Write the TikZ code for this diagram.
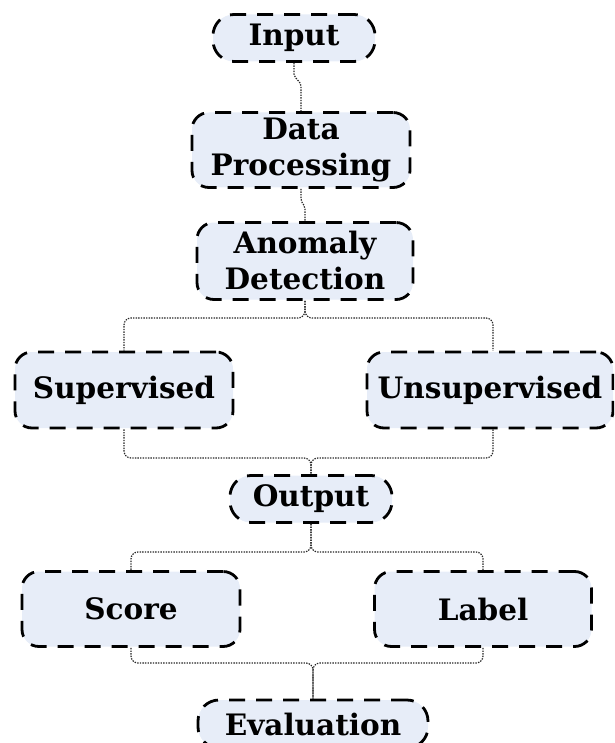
\documentclass[tikz,border=0pt]{standalone}
\usepackage{fontspec}
\setmainfont{DejaVu Serif}
\definecolor{boxfill}{HTML}{E7EDF8}
\begin{document}
\begin{tikzpicture}[x=1pt,y=-1pt,
  box/.style={draw=black, line width=2.8pt, dash pattern=on 16pt off 11pt,
    fill=boxfill, rounded corners=17pt, align=center, inner sep=0pt,
    font=\bfseries\fontsize{29.5}{36}\selectfont},
  pill/.style={box, rounded corners=21pt},
  conn/.style={draw=black!85, line width=1.2pt, dash pattern=on 1.4pt off 1.2pt,
    rounded corners=7pt},
  jog/.style={conn, rounded corners=2pt}]
\useasboundingbox (0,0) rectangle (614,743);
\clip (0,0) rectangle (614,743);

% processing chain
\node[pill, minimum width=162pt, minimum height=47pt] (inp) at (294,38) {Input};
\node[box, minimum width=218pt, minimum height=75pt] (dp) at (301,150) {Data\\Processing};
\node[box, minimum width=216pt, minimum height=77pt] (ad) at (305,261) {Anomaly\\Detection};
\node[box, minimum width=218pt, minimum height=76pt] (sup) at (124,390) {Supervised};
\node[box, minimum width=246pt, minimum height=76pt] (uns) at (490,390) {Unsupervised};
\node[pill, minimum width=162pt, minimum height=47pt] (out) at (311,499) {Output};
\node[box, minimum width=218pt, minimum height=75pt] (sc) at (131,609) {Score};
\node[box, minimum width=217pt, minimum height=75pt] (lb) at (483,609) {Label};
\node[pill, minimum width=230pt, minimum height=48pt] (ev) at (313,724) {Evaluation};

% levels of the branch lines
\coordinate (y1) at (0,318);
\coordinate (y2) at (0,458);
\coordinate (y3) at (0,552);
\coordinate (y4) at (0,663);

% connectors
\draw[jog] (inp.south) -- ++(0,13) -- ++(7,8) -- (dp.north);
\draw[jog] (dp.south) -- ++(0,12) -- ++(4,6) -- (ad.north);
\draw[conn] (ad.south) |- (y1 -| sup.north) -- (sup.north);
\draw[conn] (ad.south) |- ([xshift=3pt]y1 -| uns.north) -- ([xshift=3pt]uns.north);
\draw[conn] (sup.south) |- (y2 -| out.north) -- (out.north);
\draw[conn] ([xshift=3pt]uns.south) |- (y2 -| out.north) -- (out.north);
\draw[conn] (out.south) |- (y3 -| sc.north) -- (sc.north);
\draw[conn] (out.south) |- (y3 -| lb.north) -- (lb.north);
\draw[conn] (sc.south) |- (y4 -| ev.north) -- (ev.north);
\draw[conn] (lb.south) |- (y4 -| ev.north) -- (ev.north);
\end{tikzpicture}
\end{document}
